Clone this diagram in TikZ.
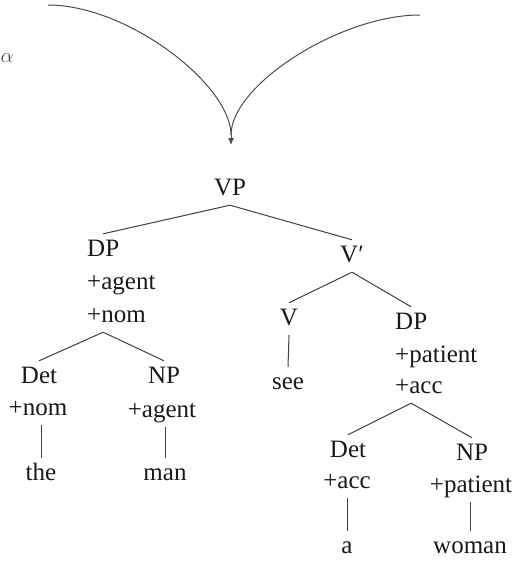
\documentclass[tikz,border=0pt]{standalone}
\usepackage{fontspec}
\setmainfont{Liberation Serif}
\usetikzlibrary{arrows.meta}
\begin{document}
\begin{tikzpicture}[x=1pt,y=-1pt,
  lbl/.style={font=\fontsize{25}{30}\selectfont, text=black!90, text height=17pt, text depth=5pt, inner ysep=5pt, inner xsep=0pt},
  branch/.style={draw=black!75, line width=1pt},
  curve/.style={draw=black!70, line width=1pt}]
\useasboundingbox (0,0) rectangle (513,562);
% stray glyph at left edge
\node[font=\fontsize{22}{26}\selectfont, text=black!70, anchor=base west, inner sep=0pt] (alpha) at (0.5,62) {$\alpha$};
% arrow curves
\coordinate (L) at (48,5);
\coordinate (R) at (420,15);
\coordinate (join) at (231,135);
\coordinate (tip) at (231,145);
\draw[curve] (L) .. controls (128,5) and (231,85) .. (join);
\draw[curve] (R) .. controls (340,15) and (231,85) .. (join);
\draw[curve,-{Latex[length=7pt,width=6pt]}] (join) -- (tip);
% tree nodes
\node[lbl, anchor=base] (vp) at (230,195) {VP};
\node[lbl, anchor=base west] (dpl) at (87,256) {DP};
\node[lbl, anchor=base west] (agl) at (87,289) {+agent};
\node[lbl, anchor=base west] (noml) at (87,322) {+nom};
\node[lbl, anchor=base] (vbar) at (352,262) {V′};
\node[lbl, anchor=base] (v) at (289,325) {V};
\node[lbl, anchor=base west] (dpr) at (395,329) {DP};
\node[lbl, anchor=base west] (patr) at (395,362) {+patient};
\node[lbl, anchor=base west] (accr) at (395,393) {+acc};
\node[lbl, anchor=base] (detl) at (39,383) {Det};
\node[lbl, anchor=base] (nomd) at (38,415) {+nom};
\node[lbl, anchor=base] (the) at (41,480) {the};
\node[lbl, anchor=base] (npl) at (164,383) {NP};
\node[lbl, anchor=base] (agn) at (162,417) {+agent};
\node[lbl, anchor=base] (man) at (165,480) {man};
\node[lbl, anchor=base] (see) at (288,389) {see};
\node[lbl, anchor=base] (detr) at (348,457) {Det};
\node[lbl, anchor=base] (accd) at (347,488) {+acc};
\node[lbl, anchor=base] (a) at (347,553) {a};
\node[lbl, anchor=base] (npr) at (472,460) {NP};
\node[lbl, anchor=base] (patn) at (471,492) {+patient};
\node[lbl, anchor=base] (woman) at (470,553) {woman};
% branches
\draw[branch] (vp.south) -- (dpl.north);
\draw[branch] (vp.south) -- (vbar.north);
\draw[branch] (vbar.south) -- (v.north);
\draw[branch] (vbar.south) -- (dpr.north);
\draw[branch] (dpl.south |- noml.south) -- (detl.north);
\draw[branch] (dpl.south |- noml.south) -- (npl.north);
\draw[branch] (v.south) -- (see.north);
\draw[branch] (dpr.south |- accr.south) -- (detr.north);
\draw[branch] (dpr.south |- accr.south) -- (npr.north);
\draw[branch] (nomd.south -| the.north) -- (the.north);
\draw[branch] (agn.south -| man.north) -- (man.north);
\draw[branch] (accd.south) -- (a.north);
\draw[branch] (patn.south -| woman.north) -- (woman.north);
\end{tikzpicture}
\end{document}
